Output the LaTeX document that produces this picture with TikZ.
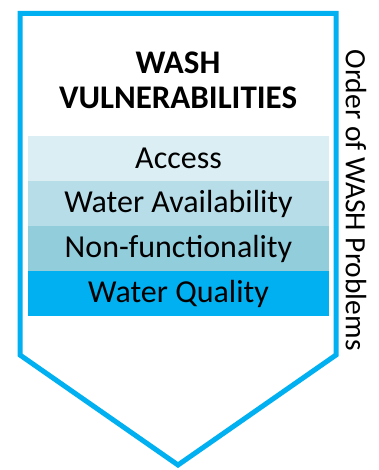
\documentclass[tikz,border=0pt]{standalone}
\usepackage{fontspec}
\setmainfont{Carlito}
\definecolor{washblue}{HTML}{00B0F0}
\definecolor{bandA}{HTML}{DAEEF3}
\definecolor{bandB}{HTML}{B7DDE8}
\definecolor{bandC}{HTML}{92CDDC}
\begin{document}
\begin{tikzpicture}[
  x=1pt,y=-1pt,
  band/.style={minimum width=301pt,minimum height=45pt,inner sep=0pt,font=\fontsize{32}{35}\selectfont},
  title/.style={font=\fontsize{33}{36}\selectfont\bfseries,inner sep=0pt},
  ]
  \useasboundingbox (0,0) rectangle (378,470);
  \draw[washblue,line width=5pt,line join=miter]
  (20,13.5) -- (336,13.5) -- (336,355) -- (178,465) -- (20,355) -- cycle;
  \node[title](t1) at (178,63){WASH};
  \node[title](t2) at (178,98){VULNERABILITIES};
  \node[band,fill=bandA](acc) at (178.5,158.5){Access};
  \node[band,fill=bandB](avail) at (178.5,203.5){Water Availability};
  \node[band,fill=bandC](func) at (178.5,248.5){Non-functionality};
  \node[band,fill=washblue](qual) at (178.5,293.5){Water Quality};
  \node[rotate=-90,inner sep=0pt,font=\fontsize{29.5}{32}\selectfont](ord) at (356,200){Order of WASH Problems};
\end{tikzpicture}
\end{document}
